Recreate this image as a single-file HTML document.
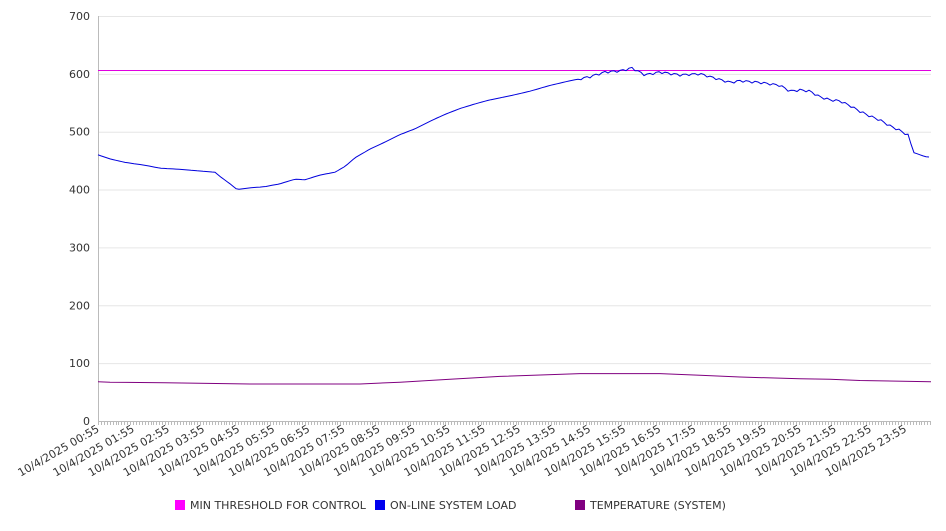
<!DOCTYPE html>
<html><head><meta charset="utf-8"><style>
body{margin:0;background:#fff}
svg{font-family:"DejaVu Sans","Liberation Sans",sans-serif}
</style></head><body>
<svg id="s" width="946" height="526" xmlns="http://www.w3.org/2000/svg">
<g id="grid" stroke="#e6e6e6" stroke-width="1"></g>
<line x1="98.5" y1="16" x2="98.5" y2="421" stroke="#bbb"/>
<line x1="98" y1="421.5" x2="931" y2="421.5" stroke="#bbb"/>
<g id="ticks" stroke="#bbb"></g>
<g id="yl" font-size="11" fill="#333" text-anchor="end"></g>
<g id="xl" font-size="11" fill="#333" text-anchor="end"></g>
<line x1="98" y1="70.5" x2="931" y2="70.5" stroke="#e000e0" stroke-width="1"/>
<path id="temp" fill="none" stroke="#800080" stroke-width="1"/>
<path id="load" fill="none" stroke="#0000dd" stroke-width="1"/>
<g font-size="11" fill="#333">
<rect x="175" y="500" width="10" height="10" fill="#ff00ff"/><text x="190" y="509">MIN THRESHOLD FOR CONTROL</text>
<rect x="375" y="500" width="10" height="10" fill="#0000ee"/><text x="390" y="509">ON-LINE SYSTEM LOAD</text>
<rect x="575" y="500" width="10" height="10" fill="#800080"/><text x="590" y="509">TEMPERATURE (SYSTEM)</text>
</g>
</svg>
<script>
const Y=v=>421-v*0.5786,NS="http://www.w3.org/2000/svg";
function el(p,t,a,txt){const e=document.createElementNS(NS,t);for(const k in a)e.setAttribute(k,a[k]);if(txt)e.textContent=txt;document.getElementById(p).appendChild(e);}
for(let v=100;v<=700;v+=100){el('grid','line',{x1:98,x2:931,y1:Y(v)+.5,y2:Y(v)+.5});}
for(let v=0;v<=700;v+=100)el('yl','text',{x:90,y:Y(v)+4},String(v));
for(let x=98;x<=931;x+=2.92)el('ticks','line',{x1:Math.round(x)+.5,x2:Math.round(x)+.5,y1:421,y2:425});
for(let i=0;i<24;i++){const x=100+i*35.1;const h=String(i).padStart(2,'0');
el('xl','text',{x:x,y:431,transform:`rotate(-30 ${x} 431)`},`10/4/2025 ${h}:55`);}
const L=[[98,460],[110,453],[125,447],[145,442],[160,437],[180,435],[200,432],[215,430],[222,420],[230,410],[237,400],[250,403],[265,405],[280,410],[295,418],[305,417],[320,425],[335,430],[345,440],[355,455],[370,470],[385,482],[400,495],[415,505],[430,518],[445,530],[460,540],[475,548],[490,555],[510,562],[530,570],[550,580],[570,588],[590,595],[605,603],[620,605],[632,610],[645,598],[660,603],[680,598],[700,600],[710,595],[720,590],[730,585],[740,588],[760,585],[780,580],[790,570],[800,572],[810,570],[820,560],[830,555],[840,553],[850,545],[860,535],[870,527],[880,520],[890,510],[900,502],[910,492],[912,465],[925,457],[931,456]];
let d='';for(let x=98;x<=931;x+=3){let i=0;while(i<L.length-2&&L[i+1][0]<x)i++;const a=L[i],b=L[i+1];let v=a[1]+(b[1]-a[1])*(x-a[0])/(b[0]-a[0]);if(x>580&&x<910)v+=Math.sin(x*0.7)*2;d+=(d?'L':'M')+x+','+Y(v).toFixed(1);}
document.getElementById('load').setAttribute('d',d);
const T=[[98,68],[110,67],[165,66],[250,64],[360,64],[400,67],[450,72],[500,77],[580,82],[660,82],[700,79],[740,76],[800,73],[830,72],[860,70],[931,68]];
document.getElementById('temp').setAttribute('d',T.map((p,i)=>(i?'L':'M')+p[0]+','+Y(p[1]).toFixed(1)).join(''));
</script>
</body></html>
